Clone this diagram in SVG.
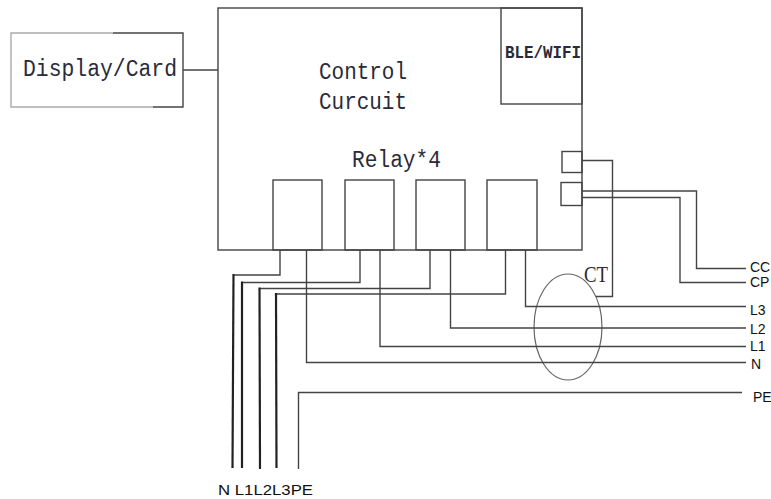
<svg xmlns="http://www.w3.org/2000/svg" width="771" height="499" viewBox="0 0 771 499">
<style>
.box{fill:none;stroke:#444;stroke-width:1.4}
.w{fill:none;stroke:#444;stroke-width:1.4}
.bw{fill:none;stroke:#222;stroke-width:2.2}
.mono{font-family:"Liberation Mono","DejaVu Sans Mono",monospace;fill:#2a2a3a;font-size:23px}
.lbl{font-family:"Liberation Sans",Arial,sans-serif;fill:#111;font-size:14px}
</style>
<rect width="771" height="499" fill="#fff"/>
<g id="display">
<path d="M113,33 H183 V107 H153" class="box"/>
<path d="M113,33 H11 V107 H153" fill="none" stroke="#aaa" stroke-width="1.4"/>
<text x="23" y="76" class="mono" textLength="154" lengthAdjust="spacingAndGlyphs">Display/Card</text>
</g>
<g id="control">
<rect x="218" y="8" width="364" height="242" class="box"/>
<text x="319" y="79" class="mono" textLength="88" lengthAdjust="spacingAndGlyphs">Control</text>
<text x="319" y="109" class="mono" textLength="88" lengthAdjust="spacingAndGlyphs">Curcuit</text>
<text x="352" y="167" class="mono" textLength="89" lengthAdjust="spacingAndGlyphs">Relay*4</text>
</g>
<g id="ble">
<rect x="501" y="8" width="81" height="96" class="box"/>
<text x="505" y="58" class="mono" style="font-size:18px;font-weight:bold" textLength="76" lengthAdjust="spacingAndGlyphs">BLE/WIFI</text>
</g>
<g id="relays">
<rect x="273" y="180" width="49" height="70" class="box"/>
<rect x="345" y="180" width="49" height="70" class="box"/>
<rect x="416" y="180" width="49" height="70" class="box"/>
<rect x="487" y="180" width="50" height="70" class="box"/>
</g>
<g id="ports">
<rect x="562" y="151.5" width="20" height="21" class="box"/>
<rect x="561" y="182.5" width="21" height="23" class="box"/>
</g>
<g id="ct">
<ellipse cx="568" cy="327" rx="34" ry="53" fill="none" stroke="#666" stroke-width="1.2"/>
<text x="584" y="282" style="font-family:'Liberation Serif','Times New Roman',serif;font-size:24px;fill:#2a2a3a" textLength="24" lengthAdjust="spacingAndGlyphs">CT</text>
</g>
<g id="connectors">
<path d="M183,70 H218" class="w"/>
<path d="M582,160.5 H612.5 V296.5 H596" class="w"/>
<path d="M582,191 H696.5 V268.5 H746" class="w"/>
<path d="M582,197.5 H680 V282.5 H746" class="w"/>
<path d="M280,250 V275 H233.5" class="w"/>
<path d="M360,250 V282.5 H242" class="w"/>
<path d="M430,250 V288.5 H259.5" class="w"/>
<path d="M505.5,250 V294 H276" class="w"/>
<path d="M306.5,250 V362.5 H746" class="w"/>
<path d="M380,250 V346.5 H746" class="w"/>
<path d="M450.5,250 V328 H746" class="w"/>
<path d="M525.5,250 V306.5 H746" class="w"/>
<path d="M298.5,469 V392.5 H742" class="w"/>
<path d="M233.5,274 L232.5,468" class="bw"/>
<path d="M242,281.5 L242,468" class="bw"/>
<path d="M259.5,287.5 L260,469" class="bw"/>
<path d="M276,293 L276.5,468" class="bw"/>
</g>
<g id="labels">
<text x="750" y="272" class="lbl">CC</text>
<text x="750" y="287" class="lbl">CP</text>
<text x="750" y="315" class="lbl">L3</text>
<text x="750" y="333.5" class="lbl">L2</text>
<text x="750" y="350.5" class="lbl">L1</text>
<text x="751" y="368.5" class="lbl">N</text>
<text x="753" y="401.5" class="lbl">PE</text>
<text x="218" y="495" class="lbl" style="font-size:15.5px" textLength="95" lengthAdjust="spacingAndGlyphs">N L1L2L3PE</text>
</g>
</svg>
